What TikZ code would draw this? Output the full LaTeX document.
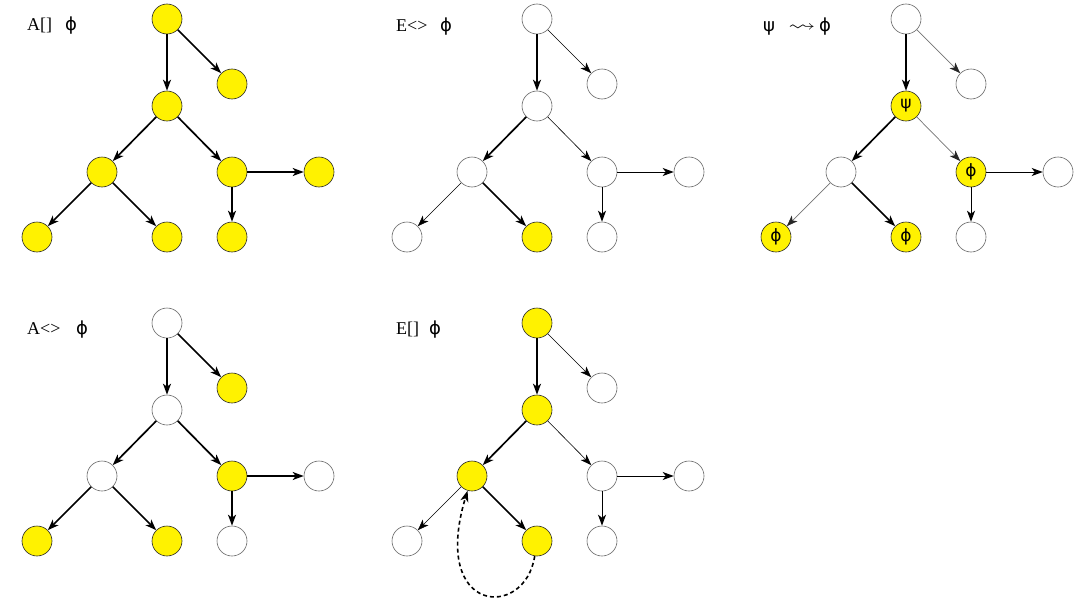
\documentclass[tikz,border=0pt]{standalone}
\usepackage{fontspec}
\usepackage{amssymb}
\setmainfont{Liberation Serif}
\newfontfamily\gk{DejaVu Sans}
\usetikzlibrary{arrows.meta}

\tikzset{
  st/.style={circle, minimum size=30pt, inner sep=0pt, draw=black!60, line width=0.6pt, fill=white, font=\gk\fontsize{17}{17}\selectfont},
  sy/.style={st, fill=yellow, draw=black!85},
  tip/.style={-{Stealth[length=11pt,width=8pt,inset=3pt]}},
  ethick/.style={tip, line width=1.7pt},
  enorm/.style={tip, line width=1pt},
  ethin/.style={tip, line width=0.6pt},
  egray/.style={-{Stealth[length=11pt,width=8pt,inset=3pt,color=black!85]}, line width=0.7pt, draw=black!55},
  lbl/.style={inner sep=0pt, font=\fontsize{18}{18}\selectfont},
  sym/.style={inner sep=0pt, font=\gk\fontsize{18}{18}\selectfont},
}

\begin{document}
\begin{tikzpicture}[x=1pt, y=-1pt]
\useasboundingbox (0,0) rectangle (1090,605);

% --- A[] phi : every state satisfies phi ---
\node[lbl, anchor=base west] (la) at (27,30) {A[]};
\node[sym, anchor=base] (pa) at (71,30) {ϕ};
\begin{scope}[shift={(167,19)}]
  \node[sy] (a-r)  at (0,0) {};
  \node[sy] (a-rc) at (65,65) {};
  \node[sy] (a-m)  at (0,87) {};
  \node[sy] (a-lm) at (-65,153) {};
  \node[sy] (a-rm) at (65,153) {};
  \node[sy] (a-fr) at (152,153) {};
  \node[sy] (a-bl) at (-130,218) {};
  \node[sy] (a-bm) at (0,218) {};
  \node[sy] (a-br) at (65,218) {};
\end{scope}
\draw[ethick] (a-r) -- (a-m);
\draw[ethick] (a-r) -- (a-rc);
\draw[ethick] (a-m) -- (a-lm);
\draw[ethick] (a-m) -- (a-rm);
\draw[ethick] (a-lm) -- (a-bl);
\draw[ethick] (a-lm) -- (a-bm);
\draw[ethick] (a-rm) -- (a-fr);
\draw[ethick] (a-rm) -- (a-br);

% --- E<> phi : some path reaches phi ---
\node[lbl, anchor=base west] (lb) at (396,31) {E<>};
\node[sym, anchor=base] (pb) at (446,31) {ϕ};
\begin{scope}[shift={(537,19)}]
  \node[st] (b-r)  at (0,0) {};
  \node[st] (b-rc) at (65,65) {};
  \node[st] (b-m)  at (0,87) {};
  \node[st] (b-lm) at (-65,153) {};
  \node[st] (b-rm) at (65,153) {};
  \node[st] (b-fr) at (152,153) {};
  \node[st] (b-bl) at (-130,218) {};
  \node[sy] (b-bm) at (0,218) {};
  \node[st] (b-br) at (65,218) {};
\end{scope}
\draw[ethick] (b-r) -- (b-m);
\draw[ethin]  (b-r) -- (b-rc);
\draw[ethick] (b-m) -- (b-lm);
\draw[ethin]  (b-m) -- (b-rm);
\draw[ethin]  (b-lm) -- (b-bl);
\draw[ethick] (b-lm) -- (b-bm);
\draw[enorm]  (b-rm) -- (b-fr);
\draw[enorm]  (b-rm) -- (b-br);

% --- psi leads to phi ---
\node[sym, anchor=base] (pc1) at (769,31) {ψ};
\node[inner sep=0pt, anchor=base, font=\fontsize{17}{17}\selectfont] (lc) at (802,31) {\scalebox{1.6}[1.1]{$\leadsto$}};
\node[sym, anchor=base] (pc2) at (825,31) {ϕ};
\begin{scope}[shift={(906,19)}]
  \node[st] (c-r)  at (0,0) {};
  \node[st] (c-rc) at (65,65) {};
  \node[sy] (c-m)  at (0,87) {ψ};
  \node[st] (c-lm) at (-65,153) {};
  \node[sy] (c-rm) at (65,153) {ϕ};
  \node[st] (c-fr) at (152,153) {};
  \node[sy] (c-bl) at (-130,218) {ϕ};
  \node[sy] (c-bm) at (0,218) {ϕ};
  \node[st] (c-br) at (65,218) {};
\end{scope}
\draw[ethick] (c-r) -- (c-m);
\draw[egray]  (c-r) -- (c-rc);
\draw[ethick] (c-m) -- (c-lm);
\draw[egray]  (c-m) -- (c-rm);
\draw[egray]  (c-lm) -- (c-bl);
\draw[ethick] (c-lm) -- (c-bm);
\draw[enorm]  (c-rm) -- (c-fr);
\draw[enorm]  (c-rm) -- (c-br);

% --- A<> phi : every path reaches phi ---
\node[lbl, anchor=base west] (ld) at (27,334) {A<>};
\node[sym, anchor=base] (pd) at (82,334) {ϕ};
\begin{scope}[shift={(167,323)}]
  \node[st] (d-r)  at (0,0) {};
  \node[sy] (d-rc) at (65,65) {};
  \node[st] (d-m)  at (0,87) {};
  \node[st] (d-lm) at (-65,153) {};
  \node[sy] (d-rm) at (65,153) {};
  \node[st] (d-fr) at (152,153) {};
  \node[sy] (d-bl) at (-130,218) {};
  \node[sy] (d-bm) at (0,218) {};
  \node[st] (d-br) at (65,218) {};
\end{scope}
\draw[ethick] (d-r) -- (d-m);
\draw[ethick] (d-r) -- (d-rc);
\draw[ethick] (d-m) -- (d-lm);
\draw[ethick] (d-m) -- (d-rm);
\draw[ethick] (d-lm) -- (d-bl);
\draw[ethick] (d-lm) -- (d-bm);
\draw[ethick] (d-rm) -- (d-fr);
\draw[ethick] (d-rm) -- (d-br);

% --- E[] phi : some path stays in phi ---
\node[lbl, anchor=base west] (le) at (396,334) {E[]};
\node[sym, anchor=base] (pe) at (435,334) {ϕ};
\begin{scope}[shift={(537,323)}]
  \node[sy] (e-r)  at (0,0) {};
  \node[st] (e-rc) at (65,65) {};
  \node[sy] (e-m)  at (0,87) {};
  \node[sy] (e-lm) at (-65,153) {};
  \node[st] (e-rm) at (65,153) {};
  \node[st] (e-fr) at (152,153) {};
  \node[st] (e-bl) at (-130,218) {};
  \node[sy] (e-bm) at (0,218) {};
  \node[st] (e-br) at (65,218) {};
\end{scope}
\draw[ethick] (e-r) -- (e-m);
\draw[ethin]  (e-r) -- (e-rc);
\draw[ethick] (e-m) -- (e-lm);
\draw[ethin]  (e-m) -- (e-rm);
\draw[ethin]  (e-lm) -- (e-bl);
\draw[ethick] (e-lm) -- (e-bm);
\draw[enorm]  (e-rm) -- (e-fr);
\draw[enorm]  (e-rm) -- (e-br);
\draw[tip, line width=1.6pt, dash pattern=on 4pt off 3pt]
  (e-bm) .. controls (525,620) and (430,615) .. (e-lm);
\end{tikzpicture}
\end{document}
